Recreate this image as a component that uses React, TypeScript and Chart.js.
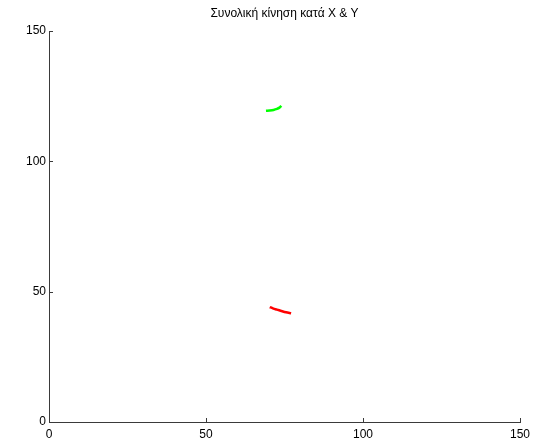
import React, { useEffect, useRef } from "react";
import { Chart, registerables } from "chart.js";

Chart.register(...registerables);

const titleText = "Συνολική κίνηση κατά X & Y";
const tickValues = [0, 50, 100, 150];

const greenX = [69.1, 70.3, 71.5, 72.6, 73.4, 74.0];
const greenY = [119.4, 119.5, 119.7, 120.1, 120.6, 121.3];

const redX = [70.3, 71.3, 72.6, 74.0, 75.5, 77.1];
const redY = [44.1, 43.6, 43.1, 42.6, 42.1, 41.7];

const toPoints = (xs: number[], ys: number[]) => xs.map((x, i) => ({ x, y: ys[i] }));

const FONT = "'Liberation Sans', Arial, sans-serif";
const AXIS = "#3a3a3a";

const tickPlugin = {
  id: "matlabTicks",
  afterDraw(chart: any) {
    const { ctx, chartArea, scales } = chart;
    ctx.save();
    ctx.strokeStyle = AXIS;
    ctx.lineWidth = 1;
    const len = 4;
    tickValues.forEach((v) => {
      const px = Math.round(scales.x.getPixelForValue(v)) + 0.5;
      ctx.beginPath();
      ctx.moveTo(px, chartArea.bottom);
      ctx.lineTo(px, chartArea.bottom - len);
      ctx.stroke();
      const py = Math.round(scales.y.getPixelForValue(v)) + 0.5;
      ctx.beginPath();
      ctx.moveTo(chartArea.left, py);
      ctx.lineTo(chartArea.left + len, py);
      ctx.stroke();
    });
    ctx.fillStyle = "#000";
    ctx.font = `12px ${FONT}`;
    ctx.textAlign = "center";
    ctx.textBaseline = "middle";
    ctx.fillText(titleText, (chartArea.left + chartArea.right) / 2, 14);
    ctx.restore();
  },
};

export default function App() {
  const ref = useRef<HTMLCanvasElement>(null);
  useEffect(() => {
    if (!ref.current) return;
    const chart = new Chart(ref.current, {
      type: "scatter",
      data: {
        datasets: [
          {
            data: toPoints(greenX, greenY),
            borderColor: "#00ff00",
            backgroundColor: "#00ff00",
            showLine: true,
            pointRadius: 0,
            borderWidth: 2.5,
            tension: 0.3,
          },
          {
            data: toPoints(redX, redY),
            borderColor: "#ff0000",
            backgroundColor: "#ff0000",
            showLine: true,
            pointRadius: 0,
            borderWidth: 2.5,
            tension: 0.3,
          },
        ],
      },
      options: {
        animation: false,
        responsive: false,
        maintainAspectRatio: false,
        layout: { padding: { top: 31, right: 24, left: 0, bottom: 0 } },
        plugins: { legend: { display: false }, tooltip: { enabled: false }, title: { display: false } },
        scales: {
          x: {
            type: "linear",
            min: 0,
            max: 150,
            afterFit: (s: any) => {
              s.height = 21;
            },
            grid: { display: false, drawTicks: false },
            border: { display: true, color: AXIS, width: 1 },
            ticks: {
              stepSize: 50,
              padding: 5,
              color: "#000",
              font: { family: FONT, size: 12 },
              maxRotation: 0,
            },
          },
          y: {
            type: "linear",
            min: 0,
            max: 150,
            afterFit: (s: any) => {
              s.width = 49;
            },
            grid: { display: false, drawTicks: false },
            border: { display: true, color: AXIS, width: 1 },
            ticks: {
              stepSize: 50,
              padding: 3,
              color: "#000",
              font: { family: FONT, size: 12 },
            },
          },
        },
      },
      plugins: [tickPlugin],
    });
    return () => chart.destroy();
  }, []);
  return (
    <div style={{ position: "fixed", left: 0, top: 0, width: 544, height: 443, background: "#fff" }}>
      <canvas ref={ref} width={544} height={443} style={{ width: 544, height: 443 }} />
    </div>
  );
}
